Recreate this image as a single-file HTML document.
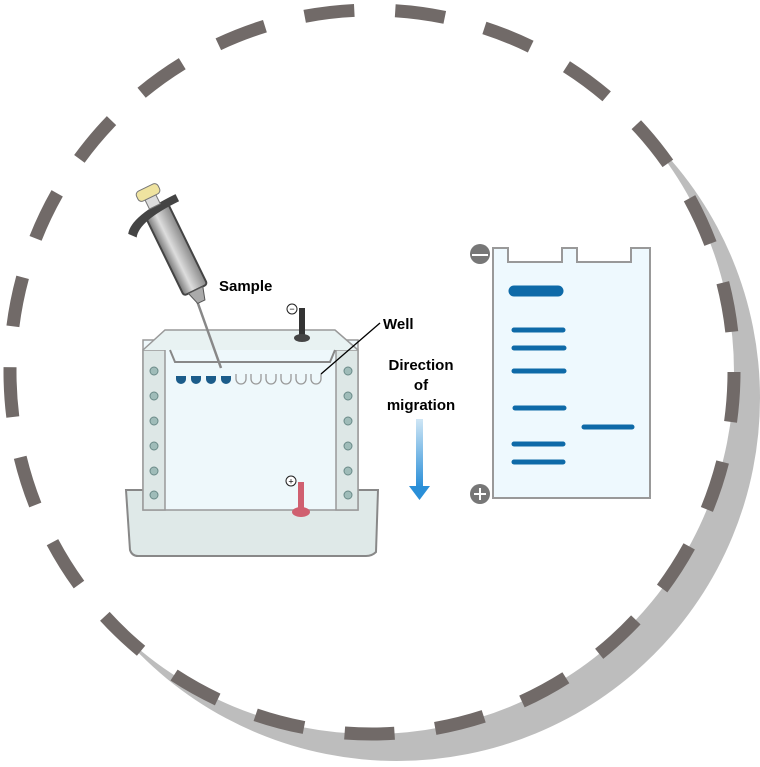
<!DOCTYPE html>
<html><head><style>body{margin:0;background:#fff}svg{display:block}</style></head><body>
<svg width="760" height="767" viewBox="0 0 760 767" xmlns="http://www.w3.org/2000/svg" font-family="Liberation Sans, sans-serif">
<circle cx="397" cy="398" r="363" fill="#bdbdbd"/>
<circle cx="372" cy="372" r="362" fill="#fff"/>
<circle cx="372" cy="372" r="362" fill="none" stroke="#716a68" stroke-width="13" stroke-dasharray="50 41"/>
<!-- tank -->
<path d="M126 490 L378 490 L376 552 Q372 556 366 556 L138 556 Q132 556 130 550 Z" fill="#dfe9e8" stroke="#888" stroke-width="2"/>
<rect x="143" y="340" width="215" height="170" fill="#eef8fb" stroke="#999" stroke-width="1.5"/>
<rect x="143" y="350" width="22" height="160" fill="#dde7e6" stroke="#999" stroke-width="1.5"/>
<rect x="336" y="350" width="22" height="160" fill="#dde7e6" stroke="#999" stroke-width="1.5"/>
<path d="M143 350 L165 330 L335 330 L358 350" fill="#e8f2f2" stroke="#999" stroke-width="1.5"/>
<path d="M170 350 L175 362 L330 362 L335 350" fill="none" stroke="#888" stroke-width="2"/>
<g fill="#9fbcb9" stroke="#6a8a88" stroke-width="1">
<circle cx="154" cy="371" r="4"/><circle cx="154" cy="396" r="4"/><circle cx="154" cy="421" r="4"/><circle cx="154" cy="446" r="4"/><circle cx="154" cy="471" r="4"/><circle cx="154" cy="495" r="4"/>
<circle cx="348" cy="371" r="4"/><circle cx="348" cy="396" r="4"/><circle cx="348" cy="421" r="4"/><circle cx="348" cy="446" r="4"/><circle cx="348" cy="471" r="4"/><circle cx="348" cy="495" r="4"/>
</g>
<g fill="none" stroke="#999" stroke-width="1.3">
<path d="M236 374 v5 a5 5 0 0 0 10 0 v-5"/><path d="M251 374 v5 a5 5 0 0 0 10 0 v-5"/><path d="M266 374 v5 a5 5 0 0 0 10 0 v-5"/><path d="M281 374 v5 a5 5 0 0 0 10 0 v-5"/><path d="M296 374 v5 a5 5 0 0 0 10 0 v-5"/><path d="M311 374 v5 a5 5 0 0 0 10 0 v-5"/>
</g>
<g fill="#1b5c8a"><path d="M176 376 h10 v3 a5 5 0 0 1 -10 0z"/><path d="M191 376 h10 v3 a5 5 0 0 1 -10 0z"/><path d="M206 376 h10 v3 a5 5 0 0 1 -10 0z"/><path d="M221 376 h10 v3 a5 5 0 0 1 -10 0z"/></g>
<!-- electrodes -->
<rect x="299" y="308" width="6" height="30" fill="#333"/><ellipse cx="302" cy="338" rx="8" ry="4" fill="#444"/>
<circle cx="292" cy="309" r="5" fill="#fff" stroke="#222"/><text x="292" y="312" font-size="9" text-anchor="middle">−</text>
<rect x="298" y="482" width="6" height="28" fill="#d06070"/><ellipse cx="301" cy="512" rx="9" ry="5" fill="#d06070"/>
<circle cx="291" cy="481" r="5" fill="#fff" stroke="#222"/><text x="291" y="484.5" font-size="9" text-anchor="middle">+</text>
<!-- pipette -->
<defs><linearGradient id="pg" x1="0" y1="0" x2="1" y2="0"><stop offset="0" stop-color="#777"/><stop offset=".4" stop-color="#ddd"/><stop offset="1" stop-color="#888"/></linearGradient>
<linearGradient id="g" x1="0" y1="0" x2="0" y2="1"><stop offset="0" stop-color="#cfe6f5"/><stop offset="1" stop-color="#2a8fd8"/></linearGradient></defs>
<line x1="196" y1="298" x2="221" y2="368" stroke="#888" stroke-width="2.5"/>
<g transform="rotate(-26 175 250)">
<rect x="163" y="205" width="26" height="90" rx="3" fill="url(#pg)" stroke="#444" stroke-width="2"/>
<polygon points="168,295 184,295 180,308 172,308" fill="#aaa" stroke="#555"/>
<path d="M140 215 Q150 200 200 200 L200 208 Q155 208 146 222 Z" fill="#444"/>
<rect x="170" y="192" width="12" height="10" fill="#ddd" stroke="#777"/>
<rect x="164" y="181" width="24" height="11" rx="4" fill="#efe3a0" stroke="#777"/>
</g>
<text x="219" y="291" font-size="15" font-weight="bold">Sample</text>
<text x="383" y="329" font-size="15" font-weight="bold">Well</text>
<line x1="380" y1="323" x2="321" y2="374" stroke="#000" stroke-width="1.3"/>
<text x="421" y="370" font-size="15" font-weight="bold" text-anchor="middle">Direction</text>
<text x="421" y="390" font-size="15" font-weight="bold" text-anchor="middle">of</text>
<text x="421" y="410" font-size="15" font-weight="bold" text-anchor="middle">migration</text>
<rect x="416" y="419" width="7" height="68" fill="url(#g)"/><polygon points="409,486 430,486 419.5,500" fill="#2a8fd8"/>
<!-- gel -->
<path d="M493 248 L508 248 L508 262 L562 262 L562 248 L577 248 L577 262 L631 262 L631 248 L650 248 L650 498 L493 498 Z" fill="#eef9fe" stroke="#999" stroke-width="2"/>
<g stroke="#0e6aa8" stroke-linecap="round"><line x1="514" y1="291" x2="558" y2="291" stroke-width="11"/>
<line x1="514" y1="330" x2="563" y2="330" stroke-width="5"/><line x1="514" y1="348" x2="564" y2="348" stroke-width="5"/><line x1="514" y1="371" x2="564" y2="371" stroke-width="5"/><line x1="515" y1="408" x2="564" y2="408" stroke-width="5"/><line x1="514" y1="444" x2="563" y2="444" stroke-width="5"/><line x1="514" y1="462" x2="563" y2="462" stroke-width="5"/><line x1="584" y1="427" x2="632" y2="427" stroke-width="5"/></g>
<circle cx="480" cy="254" r="10" fill="#777"/><line x1="472" y1="255" x2="488" y2="255" stroke="#fff" stroke-width="2"/>
<circle cx="480" cy="494" r="10" fill="#777"/><path d="M474 494 h12 M480 488 v12" stroke="#fff" stroke-width="2"/>
</svg>
</body></html>
